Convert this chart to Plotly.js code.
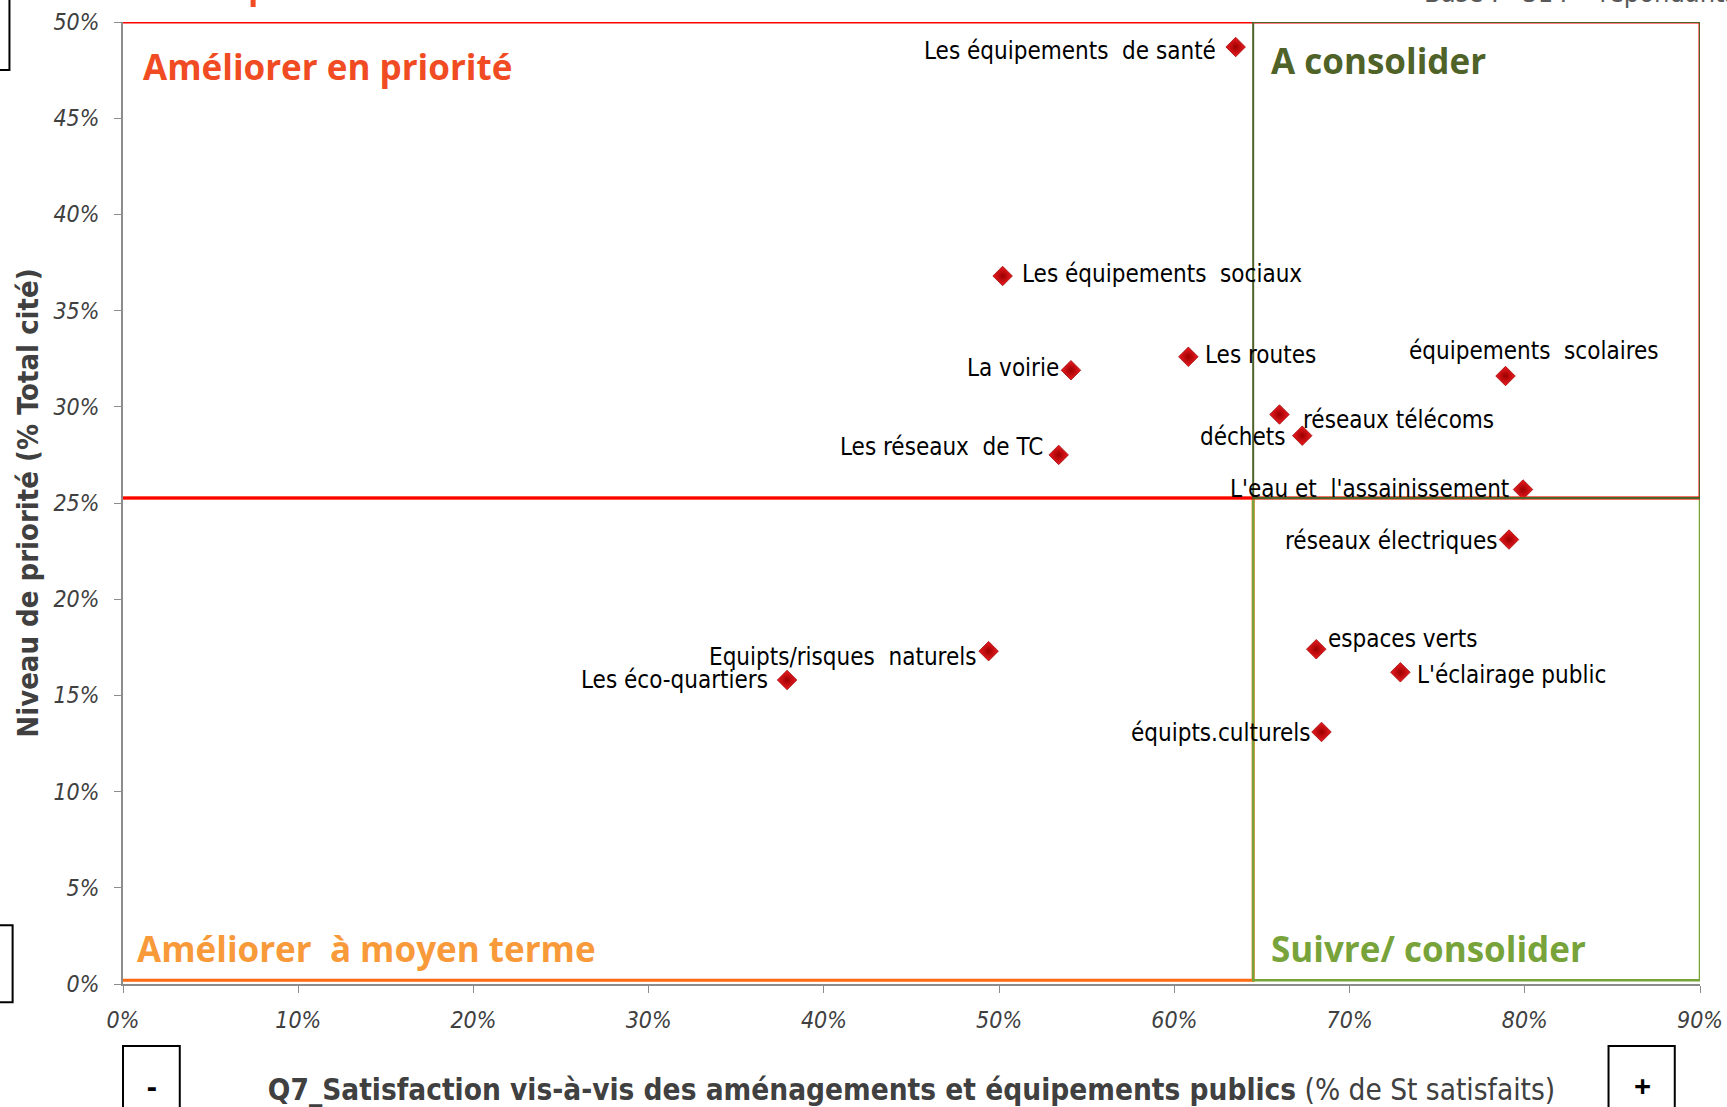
<!DOCTYPE html>
<html>
<head>
<meta charset="utf-8">
<script src="https://cdn.plot.ly/plotly-3.0.1.min.js"></script>
<style>
  html, body { margin: 0; padding: 0; background: #fff; }
  #chart { width: 1727px; height: 1107px; }
</style>
</head>
<body>
<div id="chart"></div>
<script>
// Les équipements publics : satisfaction (x) vs niveau de priorité (y)
const itemNames = [
  'Les équipements  de santé', 'Les équipements  sociaux', 'La voirie', 'Les routes',
  'équipements  scolaires', 'réseaux télécoms', 'déchets', 'Les réseaux  de TC',
  "L'eau et  l'assainissement", 'réseaux électriques', 'Equipts/risques  naturels',
  'Les éco-quartiers', 'espaces verts', "L'éclairage public", 'équipts.culturels'
];
const satisfaction = [0.635, 0.502, 0.541, 0.608, 0.789, 0.660, 0.673, 0.534, 0.799, 0.791, 0.494, 0.379, 0.681, 0.729, 0.684];
const priority = [0.487, 0.368, 0.319, 0.326, 0.316, 0.296, 0.285, 0.275, 0.257, 0.231, 0.173, 0.158, 0.174, 0.162, 0.131];

// seuils des quadrants (moyennes)
const meanSatisfaction = 0.645;
const meanPriority = 0.2526;

const xTicks = [0, 0.1, 0.2, 0.3, 0.4, 0.5, 0.6, 0.7, 0.8, 0.9];
const yTicks = [0, 0.05, 0.1, 0.15, 0.2, 0.25, 0.3, 0.35, 0.4, 0.45, 0.5];

// placement des étiquettes : [xanchor, xshift, yshift]
const labelPlace = [
  ['right', -18, -4], ['left', 17, 2], ['right', -10, 2], ['left', 15, 2],
  ['center', 28, 25], ['left', 22, -5], ['right', -14, -1], ['right', -14, 8],
  ['right', -12, 1], ['right', -10, -1], ['right', -11, -6],
  ['right', -17, 0], ['left', 10, 10], ['left', 15, -3], ['right', -9, -1]
];

const labelFont = { family: 'DejaVu Sans Condensed, sans-serif', size: 24, color: '#000' };

const pointTrace = {
  x: satisfaction,
  y: priority,
  type: 'scatter',
  mode: 'markers',
  marker: {
    symbol: 'diamond',
    size: 15,
    color: '#ee1c22',
    gradient: { type: 'radial', color: '#9b0000' },
    line: { color: '#a00a0a', width: 0.8 }
  },
  hoverinfo: 'text',
  text: itemNames
};

const pointLabels = itemNames.map((name, i) => ({
  x: satisfaction[i], y: priority[i], xref: 'x', yref: 'y',
  text: name, showarrow: false,
  xanchor: labelPlace[i][0], yanchor: 'middle',
  xshift: labelPlace[i][1], yshift: labelPlace[i][2],
  font: labelFont
}));

const quadFont = { family: 'Open Sans, sans-serif', size: 35, weight: 700 };

const quadLabels = [
  { x: 0.01, y: 0.5, text: 'Améliorer en priorité', color: '#f04b23', yshift: -44 },
  { x: meanSatisfaction + 0.009, y: 0.5, text: 'A consolider', color: '#4f6228', yshift: -38 },
  { x: 0.007, y: 0, text: 'Améliorer  à moyen terme', color: '#f89a3a', yshift: 36 },
  { x: meanSatisfaction + 0.009, y: 0, text: 'Suivre/ consolider', color: '#77a33a', yshift: 36 }
].map(q => ({
  x: q.x, y: q.y, xref: 'x', yref: 'y', text: q.text, showarrow: false,
  xanchor: 'left', yanchor: 'middle', yshift: q.yshift,
  font: Object.assign({}, quadFont, { color: q.color })
}));

const extraText = [
  { x: 0.824, y: 1.0, xref: 'paper', yref: 'paper', text: 'Base :   314    répondants', showarrow: false,
    xanchor: 'left', yanchor: 'middle', yshift: 30,
    font: { family: 'DejaVu Sans Condensed, sans-serif', size: 27, color: '#595959' } },
  { x: 0, y: 0, xref: 'paper', yref: 'paper', text: '<b>-</b>', showarrow: false,
    xanchor: 'center', yanchor: 'middle', xshift: 29, yshift: -101,
    font: { family: 'Open Sans, sans-serif', size: 30, color: '#000' } },
  { x: 0.9, y: 0, xref: 'x', yref: 'paper', text: '<b>+</b>', showarrow: false,
    xanchor: 'center', yanchor: 'middle', xshift: -58, yshift: -101,
    font: { family: 'Open Sans, sans-serif', size: 30, color: '#000' } }
];

function rect(x0, x1, y0, y1, color, width) {
  return { type: 'rect', xref: 'x', yref: 'y', x0: x0, x1: x1, y0: y0, y1: y1,
           line: { color: color, width: width }, fillcolor: 'rgba(0,0,0,0)', layer: 'above' };
}

function box(x0, x1, y0, y1) {
  return { type: 'rect', xref: 'paper', yref: 'paper', x0: x0, x1: x1, y0: y0, y1: y1,
           line: { color: '#000', width: 2 } };
}

const shapes = [
  rect(-0.002, meanSatisfaction, 0.002, meanPriority, '#ff6a13', 3),
  rect(meanSatisfaction, 0.9, 0.002, meanPriority, '#77a33a', 2.5),
  rect(-0.002, 0.9, meanPriority, 0.5, '#ff0000', 3),
  rect(meanSatisfaction, 0.9, meanPriority, 0.5, '#4f6228', 2),
  // cadres coupés en bordure
  box(-0.2, -0.072, 0.95, 1.05),
  box(-0.2, -0.07, -0.019, 0.061),
  box(0.0, 0.036, -0.0645, -0.2),
  box(0.942, 0.984, -0.0645, -0.2),
  // reste du titre coupé en haut
  { type: 'line', xref: 'paper', yref: 'paper', x0: 0.0825, x1: 0.0825, y0: 1.0156, y1: 1.03,
    line: { color: '#f04b23', width: 5 } }
];

const tickFont = { family: 'DejaVu Sans Condensed, sans-serif', size: 23, color: '#404040', style: 'italic' };

const layout = {
  width: 1727,
  height: 1107,
  margin: { l: 123, r: 27, t: 22, b: 123 },
  paper_bgcolor: '#fff',
  plot_bgcolor: '#fff',
  showlegend: false,
  xaxis: {
    range: [0, 0.9],
    tickvals: xTicks,
    tickformat: '.0%',
    showgrid: false,
    zeroline: false,
    showline: true,
    linecolor: '#8c8c8c',
    linewidth: 2,
    ticks: 'outside',
    ticklen: 7,
    tickcolor: '#8c8c8c',
    ticklabelstandoff: 7,
    tickfont: tickFont,
    title: {
      text: '<b>Q7_Satisfaction vis-à-vis des aménagements et équipements publics</b> (% de St satisfaits)',
      font: { family: 'DejaVu Sans Condensed, sans-serif', size: 29.5, color: '#404040' },
      standoff: 50
    }
  },
  yaxis: {
    range: [0, 0.5],
    tickvals: yTicks,
    tickformat: '.0%',
    showgrid: false,
    zeroline: false,
    showline: true,
    linecolor: '#8c8c8c',
    linewidth: 2,
    ticks: 'outside',
    ticklen: 7,
    tickcolor: '#8c8c8c',
    ticklabelstandoff: 10,
    tickfont: tickFont,
    title: {
      text: '<b>Niveau de priorité (% Total cité)</b>',
      font: { family: 'DejaVu Sans Condensed, sans-serif', size: 29, color: '#404040' },
      standoff: 6
    }
  },
  shapes: shapes,
  annotations: pointLabels.concat(quadLabels, extraText)
};

Plotly.newPlot('chart', [pointTrace], layout, { displayModeBar: false, staticPlot: true });
</script>
</body>
</html>
